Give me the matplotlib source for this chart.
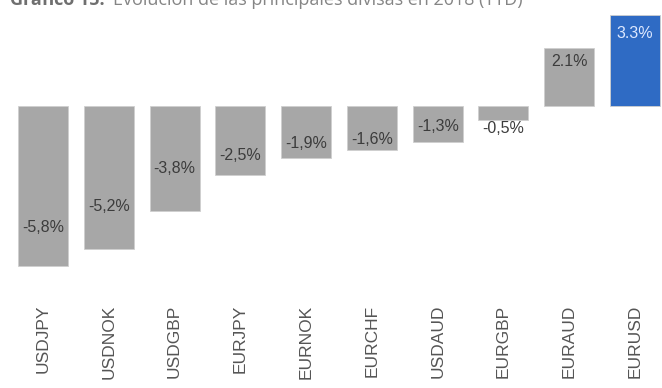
import matplotlib.pyplot as plt
import numpy as np

# evolución YTD de las principales divisas (%)
pares = ['USDJPY', 'USDNOK', 'USDGBP', 'EURJPY', 'EURNOK',
         'EURCHF', 'USDAUD', 'EURGBP', 'EURAUD', 'EURUSD']
valores = [-5.8, -5.2, -3.8, -2.5, -1.9, -1.6, -1.3, -0.5, 2.1, 3.3]
etiquetas = ['-5,8%', '-5,2%', '-3,8%', '-2,5%', '-1,9%',
             '-1,6%', '-1,3%', '-0,5%', '2.1%', '3.3%']

# donde va cada etiqueta, como fraccion del valor
pos_etiqueta = [0.76, 0.70, 0.60, 0.72, 0.72, 0.77, 0.58, 1.6, 0.76, 0.80]

gris = '#a7a7a7'
azul = '#2f6bc4'
colores = [gris] * 9 + [azul]

fig = plt.figure(figsize=(6.62, 3.88), dpi=100)
ax = fig.add_axes([0, 88 / 388, 1, 300 / 388])

x = np.arange(len(pares))
ax.bar(x, valores, width=0.76, color=colores, edgecolor='#cfcfcf', linewidth=0.6)

for i, (v, t, f) in enumerate(zip(valores, etiquetas, pos_etiqueta)):
    c = '#dde8ff' if i == len(pares) - 1 else '#3c3c3c'
    ax.text(i, v * f, t, ha='center', va='center', fontsize=11.5,
            color=c, family='Liberation Sans')

ax.set_xlim(-0.654, 9.41)
ax.set_ylim(-7.03, 3.84)
ax.set_xticks(x)
ax.set_xticklabels(pares, rotation=90, fontsize=12.5, color='#555555',
                   family='Liberation Sans', va='top')
ax.tick_params(axis='x', length=0, pad=3.5)
ax.set_yticks([])
for s in ax.spines.values():
    s.set_visible(False)

# titulo recortado por arriba
fig.text(0.015, 1.0, 'Gráfico 15:', fontsize=13, fontweight='bold',
         color='#6f6f6f', family='Open Sans', va='center')
fig.text(0.17, 1.0, 'Evolución de las principales divisas en 2018 (YTD)',
         fontsize=13, color='#858585', family='Open Sans', va='center')

fig.savefig('out.png', dpi=100)
